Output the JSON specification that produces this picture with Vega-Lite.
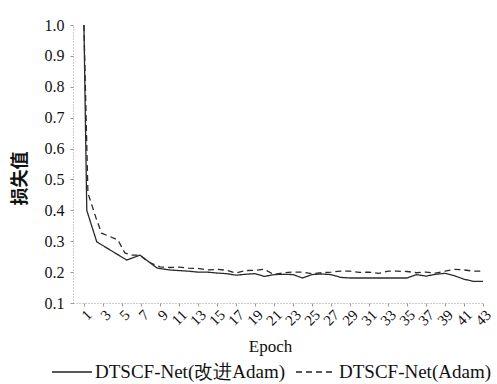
{
  "$schema": "https://vega.github.io/schema/vega-lite/v6.json",
  "autosize": "none",
  "width": 411,
  "height": 278,
  "padding": {"left": 73, "top": 25, "right": 13, "bottom": 81},
  "background": "white",
  "config": {"view": {"stroke": null}},
  "data": {"values": [
    {"epoch": 1, "loss": 1.0, "series": "DTSCF-Net(改进Adam)"},
    {"epoch": 1.3, "loss": 0.40, "series": "DTSCF-Net(改进Adam)"},
    {"epoch": 2.35, "loss": 0.298, "series": "DTSCF-Net(改进Adam)"},
    {"epoch": 5.5, "loss": 0.239, "series": "DTSCF-Net(改进Adam)"},
    {"epoch": 6.9, "loss": 0.255, "series": "DTSCF-Net(改进Adam)"},
    {"epoch": 8.7, "loss": 0.213, "series": "DTSCF-Net(改进Adam)"},
    {"epoch": 10, "loss": 0.207, "series": "DTSCF-Net(改进Adam)"},
    {"epoch": 11, "loss": 0.205, "series": "DTSCF-Net(改进Adam)"},
    {"epoch": 12, "loss": 0.203, "series": "DTSCF-Net(改进Adam)"},
    {"epoch": 13, "loss": 0.2, "series": "DTSCF-Net(改进Adam)"},
    {"epoch": 14, "loss": 0.2, "series": "DTSCF-Net(改进Adam)"},
    {"epoch": 15, "loss": 0.197, "series": "DTSCF-Net(改进Adam)"},
    {"epoch": 16, "loss": 0.195, "series": "DTSCF-Net(改进Adam)"},
    {"epoch": 17, "loss": 0.19, "series": "DTSCF-Net(改进Adam)"},
    {"epoch": 18, "loss": 0.193, "series": "DTSCF-Net(改进Adam)"},
    {"epoch": 19, "loss": 0.195, "series": "DTSCF-Net(改进Adam)"},
    {"epoch": 20, "loss": 0.186, "series": "DTSCF-Net(改进Adam)"},
    {"epoch": 21, "loss": 0.192, "series": "DTSCF-Net(改进Adam)"},
    {"epoch": 22, "loss": 0.193, "series": "DTSCF-Net(改进Adam)"},
    {"epoch": 23, "loss": 0.192, "series": "DTSCF-Net(改进Adam)"},
    {"epoch": 24, "loss": 0.181, "series": "DTSCF-Net(改进Adam)"},
    {"epoch": 25, "loss": 0.192, "series": "DTSCF-Net(改进Adam)"},
    {"epoch": 26, "loss": 0.194, "series": "DTSCF-Net(改进Adam)"},
    {"epoch": 27, "loss": 0.192, "series": "DTSCF-Net(改进Adam)"},
    {"epoch": 28, "loss": 0.183, "series": "DTSCF-Net(改进Adam)"},
    {"epoch": 29, "loss": 0.181, "series": "DTSCF-Net(改进Adam)"},
    {"epoch": 30, "loss": 0.181, "series": "DTSCF-Net(改进Adam)"},
    {"epoch": 31, "loss": 0.181, "series": "DTSCF-Net(改进Adam)"},
    {"epoch": 32, "loss": 0.181, "series": "DTSCF-Net(改进Adam)"},
    {"epoch": 33, "loss": 0.181, "series": "DTSCF-Net(改进Adam)"},
    {"epoch": 34, "loss": 0.181, "series": "DTSCF-Net(改进Adam)"},
    {"epoch": 35, "loss": 0.181, "series": "DTSCF-Net(改进Adam)"},
    {"epoch": 36, "loss": 0.192, "series": "DTSCF-Net(改进Adam)"},
    {"epoch": 37, "loss": 0.187, "series": "DTSCF-Net(改进Adam)"},
    {"epoch": 38, "loss": 0.193, "series": "DTSCF-Net(改进Adam)"},
    {"epoch": 39, "loss": 0.196, "series": "DTSCF-Net(改进Adam)"},
    {"epoch": 40, "loss": 0.188, "series": "DTSCF-Net(改进Adam)"},
    {"epoch": 41, "loss": 0.177, "series": "DTSCF-Net(改进Adam)"},
    {"epoch": 42, "loss": 0.17, "series": "DTSCF-Net(改进Adam)"},
    {"epoch": 43, "loss": 0.17, "series": "DTSCF-Net(改进Adam)"},
    {"epoch": 1, "loss": 1.0, "series": "DTSCF-Net(Adam)"},
    {"epoch": 1.42, "loss": 0.456, "series": "DTSCF-Net(Adam)"},
    {"epoch": 2.34, "loss": 0.369, "series": "DTSCF-Net(Adam)"},
    {"epoch": 2.86, "loss": 0.326, "series": "DTSCF-Net(Adam)"},
    {"epoch": 3.74, "loss": 0.315, "series": "DTSCF-Net(Adam)"},
    {"epoch": 4.58, "loss": 0.304, "series": "DTSCF-Net(Adam)"},
    {"epoch": 5.3, "loss": 0.262, "series": "DTSCF-Net(Adam)"},
    {"epoch": 6, "loss": 0.255, "series": "DTSCF-Net(Adam)"},
    {"epoch": 6.9, "loss": 0.255, "series": "DTSCF-Net(Adam)"},
    {"epoch": 7.7, "loss": 0.234, "series": "DTSCF-Net(Adam)"},
    {"epoch": 9, "loss": 0.217, "series": "DTSCF-Net(Adam)"},
    {"epoch": 10, "loss": 0.215, "series": "DTSCF-Net(Adam)"},
    {"epoch": 11, "loss": 0.216, "series": "DTSCF-Net(Adam)"},
    {"epoch": 12, "loss": 0.213, "series": "DTSCF-Net(Adam)"},
    {"epoch": 13, "loss": 0.212, "series": "DTSCF-Net(Adam)"},
    {"epoch": 14, "loss": 0.207, "series": "DTSCF-Net(Adam)"},
    {"epoch": 15, "loss": 0.209, "series": "DTSCF-Net(Adam)"},
    {"epoch": 16, "loss": 0.206, "series": "DTSCF-Net(Adam)"},
    {"epoch": 17, "loss": 0.197, "series": "DTSCF-Net(Adam)"},
    {"epoch": 18, "loss": 0.205, "series": "DTSCF-Net(Adam)"},
    {"epoch": 19, "loss": 0.206, "series": "DTSCF-Net(Adam)"},
    {"epoch": 20, "loss": 0.209, "series": "DTSCF-Net(Adam)"},
    {"epoch": 21, "loss": 0.192, "series": "DTSCF-Net(Adam)"},
    {"epoch": 22, "loss": 0.198, "series": "DTSCF-Net(Adam)"},
    {"epoch": 23, "loss": 0.2, "series": "DTSCF-Net(Adam)"},
    {"epoch": 24, "loss": 0.2, "series": "DTSCF-Net(Adam)"},
    {"epoch": 25, "loss": 0.195, "series": "DTSCF-Net(Adam)"},
    {"epoch": 26, "loss": 0.198, "series": "DTSCF-Net(Adam)"},
    {"epoch": 27, "loss": 0.2, "series": "DTSCF-Net(Adam)"},
    {"epoch": 28, "loss": 0.203, "series": "DTSCF-Net(Adam)"},
    {"epoch": 29, "loss": 0.203, "series": "DTSCF-Net(Adam)"},
    {"epoch": 30, "loss": 0.199, "series": "DTSCF-Net(Adam)"},
    {"epoch": 31, "loss": 0.2, "series": "DTSCF-Net(Adam)"},
    {"epoch": 32, "loss": 0.196, "series": "DTSCF-Net(Adam)"},
    {"epoch": 33, "loss": 0.203, "series": "DTSCF-Net(Adam)"},
    {"epoch": 34, "loss": 0.203, "series": "DTSCF-Net(Adam)"},
    {"epoch": 35, "loss": 0.202, "series": "DTSCF-Net(Adam)"},
    {"epoch": 36, "loss": 0.198, "series": "DTSCF-Net(Adam)"},
    {"epoch": 37, "loss": 0.2, "series": "DTSCF-Net(Adam)"},
    {"epoch": 38, "loss": 0.197, "series": "DTSCF-Net(Adam)"},
    {"epoch": 39, "loss": 0.203, "series": "DTSCF-Net(Adam)"},
    {"epoch": 40, "loss": 0.209, "series": "DTSCF-Net(Adam)"},
    {"epoch": 41, "loss": 0.207, "series": "DTSCF-Net(Adam)"},
    {"epoch": 42, "loss": 0.203, "series": "DTSCF-Net(Adam)"},
    {"epoch": 43, "loss": 0.203, "series": "DTSCF-Net(Adam)"}
  ]},
  "mark": {"type": "line", "strokeWidth": 1.3, "color": "#2a2a2a"},
  "encoding": {
    "x": {
      "field": "epoch", "type": "quantitative",
      "scale": {"domain": [-0.15, 43.1], "nice": false, "zero": false},
      "axis": {
        "title": "Epoch",
        "values": [1,3,5,7,9,11,13,15,17,19,21,23,25,27,29,31,33,35,37,39,41,43],
        "labelAngle": -45, "labelAlign": "right", "labelBaseline": "top",
        "labelFont": "'Liberation Serif', 'DejaVu Serif', serif", "labelFontSize": 15, "labelColor": "#111",
        "labelPadding": 1, "labelOverlap": false, "labelFlush": false, "labelBound": false,
        "grid": false, "domainColor": "#999", "domainDash": [1, 2],
        "tickColor": "#999", "tickSize": 3,
        "titleFont": "'Liberation Serif', 'DejaVu Serif', serif", "titleFontSize": 17, "titleFontWeight": "normal",
        "titleColor": "#111", "titleX": 197, "titleY": 43, "titleBaseline": "middle"
      }
    },
    "y": {
      "field": "loss", "type": "quantitative",
      "scale": {"domain": [0.1, 1.0], "nice": false, "zero": false},
      "axis": {
        "title": "损失值",
        "values": [0.1,0.2,0.3,0.4,0.5,0.6,0.7,0.8,0.9,1.0],
        "format": ".1f",
        "labelFont": "'Liberation Serif', 'DejaVu Serif', serif", "labelFontSize": 16, "labelColor": "#111",
        "labelPadding": 6,
        "grid": false, "domainColor": "#999", "domainDash": [1, 2],
        "tickColor": "#999", "tickSize": 3,
        "titleFont": "Noto Sans CJK SC", "titleFontSize": 18, "titleFontWeight": "bold",
        "titleColor": "#111", "titleAngle": -90, "titleBaseline": "middle",
        "titleAlign": "center", "titleX": -53, "titleY": 153
      }
    },
    "strokeDash": {
      "field": "series", "type": "nominal",
      "scale": {"domain": ["DTSCF-Net(改进Adam)", "DTSCF-Net(Adam)"], "range": [[1, 0], [6, 4]]},
      "legend": {
        "title": null, "orient": "none", "direction": "horizontal",
        "legendX": -22, "legendY": 326,
        "symbolType": "stroke", "symbolSize": 1600, "symbolStrokeWidth": 1.3,
        "symbolStrokeColor": "#222",
        "labelFont": "'Liberation Serif', 'DejaVu Serif', serif", "labelFontSize": 19, "labelColor": "#111",
        "labelLimit": 300, "columnPadding": 8, "labelOffset": 2
      }
    }
  }
}
